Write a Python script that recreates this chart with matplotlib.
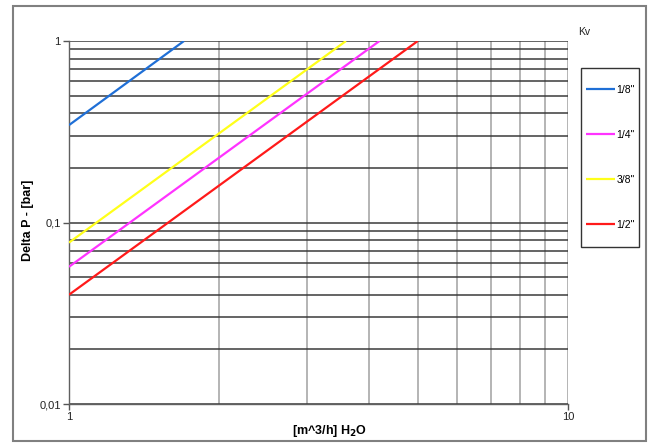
import matplotlib.pyplot as plt
from matplotlib.patches import Rectangle
from matplotlib.ticker import FixedLocator, NullFormatter, NullLocator

plt.rcParams['font.family'] = ['Liberation Sans', 'DejaVu Sans']

# flow [m^3/h] vs. pressure drop [bar], endpoints
sizes = ['1/8"', '1/4"', '3/8"', '1/2"']
colors = ['#1f6fd6', '#ff33ff', '#ffff1a', '#ff1a1a']
flow = [[1.0, 1.70], [1.0, 4.19], [1.0, 3.59], [1.0, 5.0]]
dp = [[0.344, 1.0], [0.057, 1.0], [0.0775, 1.0], [0.040, 1.0]]

y_ticks = [0.01, 0.1, 1]
y_ticklabels = ['0,01', '0,1', '1']
x_ticks = [1, 10]
x_ticklabels = ['1', '10']

W, H = 651, 443
fig = plt.figure(figsize=(W / 100, H / 100), dpi=100)
ax = fig.add_axes([69 / W, 1 - 404 / H, (568 - 69) / W, (404 - 41) / H])

for q, p, c, lab in zip(flow, dp, colors, sizes):
    ax.plot(q, p, color=c, lw=1.6, label=lab, solid_capstyle='butt', zorder=3)

ax.set_xscale('log')
ax.set_yscale('log')
ax.set_xlim(1, 10)
ax.set_ylim(0.01, 1)

# grid on every decade subdivision
ygrid = [m * 10.0 ** e for e in (-2, -1) for m in range(1, 10)] + [1.0]
xgrid = list(range(1, 11))
for v in ygrid:
    ax.axhline(v, color='#3a3a3a', lw=1.1, zorder=1)
for v in xgrid:
    ax.axvline(v, color='#a0a0a0', lw=1.1, zorder=0.5)

ax.yaxis.set_major_locator(FixedLocator(y_ticks))
ax.set_yticklabels(y_ticklabels)
ax.xaxis.set_major_locator(FixedLocator(x_ticks))
ax.set_xticklabels(x_ticklabels)
ax.xaxis.set_minor_locator(NullLocator())
ax.yaxis.set_minor_locator(NullLocator())
ax.xaxis.set_minor_formatter(NullFormatter())
ax.yaxis.set_minor_formatter(NullFormatter())
ax.tick_params(direction='out', length=4, width=1, color='#555555',
               labelsize=8, labelcolor='#222222', pad=2)

for s in ax.spines.values():
    s.set_color('#606060')
    s.set_linewidth(1.0)
ax.spines['top'].set_visible(False)
ax.spines['right'].set_visible(False)

fig.text(28 / W, 1 - 220 / H, 'Delta P - [bar]', rotation=90, fontsize=9,
         fontweight='bold', ha='center', va='center')
fig.text(330 / W, 1 - 431 / H, '[m^3/h] H$_\\mathbf{2}$O', fontsize=9,
         fontweight='bold', ha='center', va='center')
fig.text(578 / W, 1 - 32 / H, 'Kv', fontsize=7.5, ha='left', va='center',
         color='#222222')

# legend box
fig.patches.append(Rectangle((581 / W, 1 - 247 / H), 58 / W, 179 / H,
                             transform=fig.transFigure, fill=False,
                             ec='#333333', lw=1.0))
fig.legend(loc='upper left', bbox_to_anchor=(586 / W, 1 - 85 / H),
           frameon=False, fontsize=7.5, handlelength=2.8, handletextpad=0.1,
           labelspacing=3.35, borderpad=0, borderaxespad=0)

# outer chart frame
fig.patches.append(Rectangle((13 / W, 1 - 441 / H), 633 / W, 435 / H,
                             transform=fig.transFigure, fill=False,
                             ec='#808080', lw=1.5))

fig.savefig('out.png', dpi=100)
